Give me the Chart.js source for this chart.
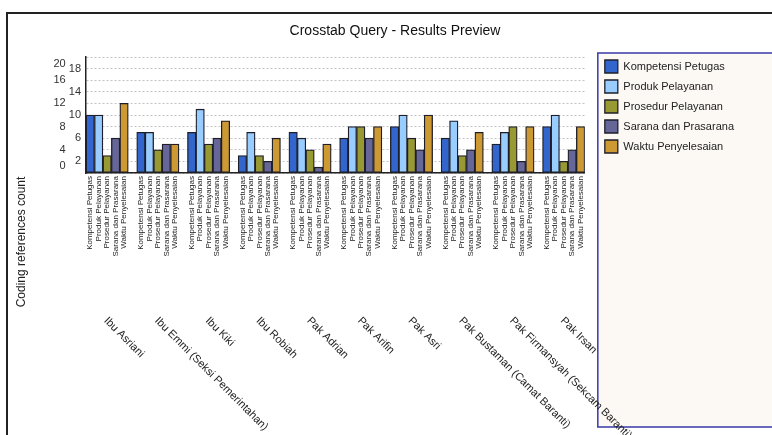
<!DOCTYPE html>
<html><head><meta charset="utf-8">
<script src="https://cdn.jsdelivr.net/npm/chart.js@4/dist/chart.umd.min.js"></script>
<style>
html,body{margin:0;padding:0;background:#fff;overflow:hidden;}
#wrap{position:relative;width:772px;height:435px;overflow:hidden;}
#frame{position:absolute;left:6px;top:12px;width:900px;height:600px;border-left:2px solid #222;border-top:2px solid #222;}
canvas{position:absolute;left:0;top:0;}
</style></head>
<body><div id="wrap"><div id="frame"></div><canvas id="c" width="772" height="435"></canvas></div>
<script>
// ---- data ----
const persons = ['Ibu Asriani','Ibu Emmi (Seksi Pemerintahan)','Ibu Kiki','Ibu Robiah','Pak Adrian','Pak Arifin','Pak Asri','Pak Bustaman (Camat Baranti)','Pak Firmansyah (Sekcam Baranti)','Pak Irsan'];
const seriesNames = ['Kompetensi Petugas','Produk Pelayanan','Prosedur Pelayanan','Sarana dan Prasarana','Waktu Penyelesaian'];
const kompetensiPetugas  = [10, 7, 7, 3, 7, 6, 8, 6, 5, 8];
const produkPelayanan    = [10, 7, 11, 7, 6, 8, 10, 9, 7, 10];
const prosedurPelayanan  = [3, 4, 5, 3, 4, 8, 6, 3, 8, 2];
const saranaPrasarana    = [6, 5, 6, 2, 1, 6, 4, 4, 2, 4];
const waktuPenyelesaian  = [12, 5, 9, 6, 5, 8, 10, 7, 8, 8];
const yTickValues = [0, 2, 4, 6, 8, 10, 12, 14, 16, 18, 20];
const chartTitle = 'Crosstab Query - Results Preview';
const yAxisTitle = 'Coding references count';

// ---- styles ----
const seriesColors = ['#3366cc', '#99ccff', '#999933', '#666699', '#cc9933'];
const FONT = '"Liberation Sans", Arial, Helvetica, sans-serif';
Chart.defaults.font.family = FONT;

const seriesValues = [kompetensiPetugas, produkPelayanan, prosedurPelayanan, saranaPrasarana, waktuPenyelesaian];
const nSeries = seriesNames.length;
const slotsPerGroup = nSeries + 1;

// slot labels: one slot per bar, one empty slot between groups
const slotLabels = [];
persons.forEach((p, g) => {
  seriesNames.forEach(s => slotLabels.push(s));
  if (g < persons.length - 1) slotLabels.push('');
});

const datasets = seriesNames.map((name, s) => {
  const data = slotLabels.map(() => null);
  seriesValues[s].forEach((v, g) => { data[g * slotsPerGroup + s] = v; });
  return {
    label: name,
    data,
    backgroundColor: seriesColors[s],
    borderColor: '#1e1e2a',
    borderWidth: 1.3,
    borderSkipped: false,
    grouped: false,
    categoryPercentage: 1,
    barPercentage: 1
  };
});

const decorPlugin = {
  id: 'decor',
  beforeDraw(chart) {
    const {ctx, chartArea} = chart;
    const L = chart.legend;
    ctx.save();
    ctx.fillStyle = '#fcf9f5';
    ctx.strokeStyle = '#3a3aa8';
    ctx.lineWidth = 1.5;
    const x0 = L.left, y0 = chartArea.top - 4, y1 = chart.height - 8;
    ctx.fillRect(x0, y0, chart.width - x0 + 5, y1 - y0);
    ctx.strokeRect(x0, y0, chart.width - x0 + 5, y1 - y0);
    ctx.restore();
  },
  afterDraw(chart) {
    const {ctx, chartArea} = chart;
    const xs = chart.scales.x;
    ctx.save();
    // y axis title
    ctx.fillStyle = '#222';
    ctx.font = '12px ' + FONT;
    ctx.textAlign = 'center';
    ctx.textBaseline = 'middle';
    ctx.translate(22, (chartArea.top + chart.height - 8) / 2);
    ctx.rotate(-Math.PI / 2);
    ctx.fillText(yAxisTitle, 0, 0);
    ctx.restore();
    // group (person) labels, slanted
    ctx.save();
    ctx.fillStyle = '#222';
    ctx.font = '11px ' + FONT;
    ctx.textAlign = 'left';
    ctx.textBaseline = 'middle';
    persons.forEach((p, g) => {
      const cx = xs.getPixelForValue(g * slotsPerGroup + Math.floor(nSeries / 2));
      ctx.save();
      ctx.translate(cx - 1.5, xs.bottom + 56);
      ctx.rotate(Math.PI / 4);
      ctx.fillText(p, 0, 0);
      ctx.restore();
    });
    ctx.restore();
  }
};

new Chart(document.getElementById('c'), {
  type: 'bar',
  data: { labels: slotLabels, datasets },
  options: {
    responsive: false,
    animation: false,
    devicePixelRatio: 1,
    layout: { padding: { left: 46, right: 28, top: 0, bottom: 172 } },
    plugins: {
      title: {
        display: true,
        text: chartTitle,
        color: '#111',
        font: { size: 14, weight: 'normal', family: FONT },
        padding: { top: 22.6, bottom: 17.6 }
      },
      legend: {
        position: 'right',
        align: 'start',
        fullSize: true,
        title: { display: true, text: ' ', font: { size: 10 }, padding: { top: 41, bottom: 0 } },
        labels: {
          boxWidth: 13, boxHeight: 13, padding: 7, color: '#222',
          font: { size: 11, family: FONT }
        }
      },
      tooltip: { enabled: false }
    },
    scales: {
      x: {
        type: 'category',
        grid: { display: false, drawTicks: false },
        border: { display: true, color: '#222', width: 1.5 },
        ticks: {
          autoSkip: false, minRotation: 90, maxRotation: 90,
          color: '#222', padding: 3,
          font: { size: 8, family: FONT }
        },
        afterFit(s) { s.height = 90; }
      },
      y: {
        type: 'linear',
        position: 'left',
        min: 0, max: 20,
        afterBuildTicks(s) { s.ticks = yTickValues.map(v => ({ value: v })); },
        grid: { color: '#c4c4c4', lineWidth: 1, drawTicks: false },
        border: { display: true, color: '#222', width: 1.5, dash: [2, 2] },
        ticks: {
          autoSkip: false,
          color: '#333', padding: 5,
          font: { size: 11, family: FONT },
          callback(v) {
            const t = (v % 4 === 0) ? String(v) + '     ' : String(v);
            if (v === 20) return ['', t];
            if (v === 0) return [t, ''];
            return t;
          }
        },
        afterFit(s) { s.width = 40; }
      },
      yR: {
        type: 'linear',
        position: 'right',
        display: false,
        afterFit(s) { s.width = 13; }
      }
    }
  },
  plugins: [decorPlugin]
});
</script>
</body></html>
